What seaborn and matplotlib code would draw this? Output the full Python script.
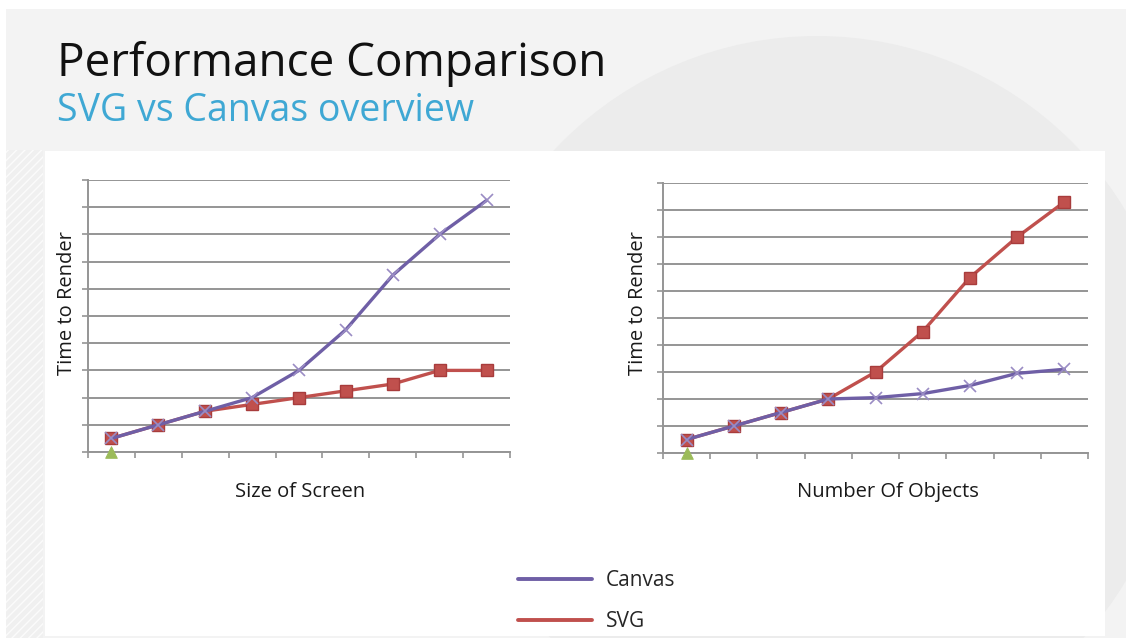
import numpy as np
import pandas as pd
import seaborn as sns
import matplotlib.pyplot as plt
from matplotlib.patches import Rectangle, Circle
from matplotlib.lines import Line2D

# ---------------- data ----------------
categories = [1, 2, 3, 4, 5, 6, 7, 8, 9]
screen_canvas = [0.5, 1.0, 1.5, 2.0, 3.0, 4.5, 6.5, 8.0, 9.25]
screen_svg = [0.5, 1.0, 1.5, 1.75, 2.0, 2.25, 2.5, 3.0, 3.0]
objects_canvas = [0.5, 1.0, 1.5, 2.0, 2.05, 2.2, 2.5, 2.95, 3.1]
objects_svg = [0.5, 1.0, 1.5, 2.0, 3.0, 4.5, 6.5, 8.0, 9.3]
series3_x = [1]
series3_y = [0.0]

title = "Performance Comparison"
subtitle = "SVG vs Canvas overview"
ylabel = "Time to Render"
xlabels = ["Size of Screen", "Number Of Objects"]
legend_labels = ["Canvas", "SVG"]

PURPLE = "#6f5fa6"
RED = "#c0504d"
RED_EDGE = "#a83c3c"
GREEN = "#9bbb59"
GRID = "#959595"

sns.set_style("white")
plt.rcParams["font.family"] = ["Open Sans", "DejaVu Sans"]

W, H = 1126, 638
fig = plt.figure(figsize=(W / 100, H / 100), dpi=100)
fig.patch.set_facecolor("white")

# background slide in pixel coordinates
bg = fig.add_axes([0, 0, 1, 1])
bg.set_xlim(0, W)
bg.set_ylim(H, 0)
bg.axis("off")
bg.add_patch(Rectangle((6, 9), W - 6, H - 9, facecolor="#f3f3f3", edgecolor="none"))
bg.add_patch(Circle((817, 396), 360, facecolor="#ececec", edgecolor="none"))
bg.add_patch(Rectangle((6, 150), 37, H - 150, facecolor="#f0f0f0", edgecolor="#fbfbfb",
                       hatch="////", linewidth=0))
bg.add_patch(Rectangle((45, 151), 1060, H - 151 - 2, facecolor="white", edgecolor="none"))

fig.text(57 / W, 1 - 76 / H, title, fontsize=33, color="#111111", ha="left", va="baseline")
fig.text(57 / W, 1 - 121 / H, subtitle, fontsize=27, color="#3fa8d4", ha="left", va="baseline")


def make_df(canvas, svg):
    return pd.DataFrame({
        "idx": list(range(len(categories))) * 2,
        "value": canvas + svg,
        "series": ["Canvas"] * len(canvas) + ["SVG"] * len(svg),
    })


def draw(rect, canvas, svg, xlabel, ylab_x, xlab_x):
    ax = fig.add_axes(rect)
    ax.set_facecolor("none")
    df = make_df(canvas, svg)
    sns.lineplot(data=df[df.series == "SVG"], x="idx", y="value", ax=ax, color=RED,
                 linewidth=2.4, marker="s", markersize=8.5, markerfacecolor=RED,
                 markeredgecolor=RED_EDGE, markeredgewidth=1.0, legend=False, zorder=3)
    sns.lineplot(data=df[df.series == "Canvas"], x="idx", y="value", ax=ax, color=PURPLE,
                 linewidth=2.4, marker="x", markersize=9, markeredgecolor="#9a8cc4",
                 markeredgewidth=1.2, legend=False, zorder=4)
    s3 = pd.DataFrame({"idx": [c - 1 for c in series3_x], "value": series3_y})
    sns.scatterplot(data=s3, x="idx", y="value", ax=ax, marker="^", s=70, color=GREEN,
                    edgecolor=GREEN, clip_on=False, zorder=5, legend=False)
    ax.set_xlim(-0.5, len(categories) - 0.5)
    ax.set_ylim(0, 10)
    ax.set_yticks(np.arange(0, 11, 1))
    ax.set_xticks(np.arange(-0.5, len(categories), 1))
    ax.set_xticklabels([])
    ax.set_yticklabels([])
    ax.set_xlabel("")
    ax.set_ylabel("")
    ax.grid(axis="y", color=GRID, linewidth=1.4)
    ax.grid(axis="x", visible=False)
    ax.set_axisbelow(True)
    for s in ["top", "right"]:
        ax.spines[s].set_visible(False)
    for s in ["left", "bottom"]:
        ax.spines[s].set_color(GRID)
        ax.spines[s].set_linewidth(1.4)
    ax.tick_params(axis="both", which="both", length=4, width=1.2, color=GRID,
                   direction="out", left=True, bottom=True)
    fig.text(ylab_x / W, 1 - 303 / H, ylabel, rotation=90, fontsize=14.5, color="#1a1a1a",
             ha="center", va="center")
    fig.text(xlab_x / W, 1 - 492 / H, xlabel, fontsize=14.5, color="#1a1a1a",
             ha="center", va="center")
    return ax


draw([88 / W, 1 - 452 / H, 422 / W, 272 / H], screen_canvas, screen_svg, xlabels[0], 67, 300)
draw([663 / W, 1 - 453 / H, 425 / W, 270 / H], objects_canvas, objects_svg, xlabels[1], 638, 888)

handles = [Line2D([], [], color=PURPLE, linewidth=2.8), Line2D([], [], color=RED, linewidth=2.8)]
fig.legend(handles, legend_labels, loc="upper left", bbox_to_anchor=(518 / W, 1 - 570 / H),
           frameon=False, fontsize=15, handlelength=3.55, handletextpad=0.67,
           labelspacing=0.95, borderpad=0, borderaxespad=0)

fig.savefig("out.png", dpi=100)
